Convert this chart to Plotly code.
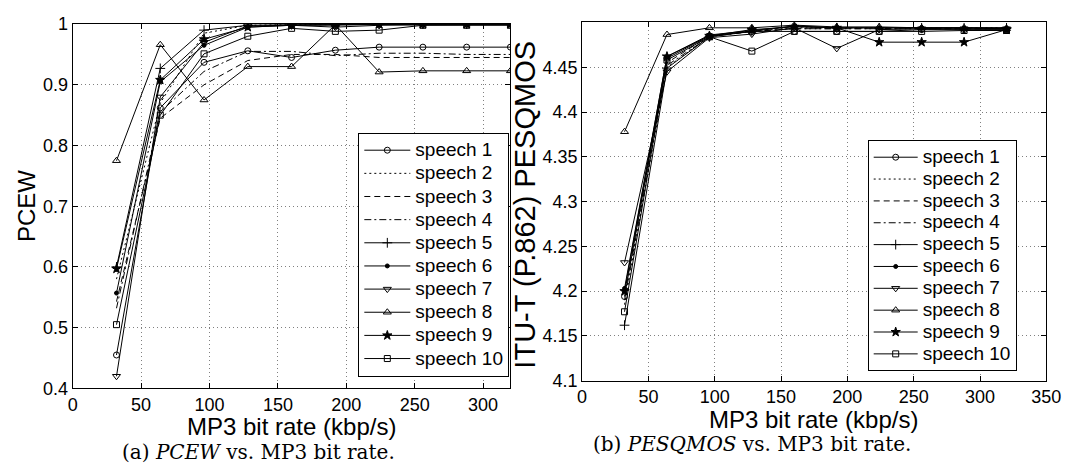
import plotly.graph_objects as go

W, H = 1078, 476

bitrate = [32, 64, 96, 128, 160, 192, 224, 256, 288, 320]
names = ["speech 1", "speech 2", "speech 3", "speech 4", "speech 5",
         "speech 6", "speech 7", "speech 8", "speech 9", "speech 10"]

pcew_s1 = [0.455, 0.862, 0.937, 0.956, 0.945, 0.957, 0.962, 0.962, 0.962, 0.962]
pcew_s2 = [0.580, 0.870, 0.985, 0.998, 0.999, 0.999, 1.000, 1.000, 1.000, 1.000]
pcew_s3 = [0.543, 0.845, 0.900, 0.940, 0.950, 0.950, 0.945, 0.945, 0.945, 0.945]
pcew_s4 = [0.532, 0.855, 0.922, 0.955, 0.955, 0.948, 0.952, 0.952, 0.950, 0.950]
pcew_s5 = [0.600, 0.927, 0.990, 0.998, 0.999, 0.999, 1.000, 1.000, 1.000, 1.000]
pcew_s6 = [0.557, 0.905, 0.965, 0.995, 0.998, 0.999, 0.999, 1.000, 1.000, 1.000]
pcew_s7 = [0.420, 0.880, 0.970, 0.997, 0.998, 0.995, 0.998, 0.999, 0.999, 0.999]
pcew_s8 = [0.775, 0.966, 0.875, 0.930, 0.930, 0.999, 0.921, 0.923, 0.923, 0.923]
pcew_s9 = [0.597, 0.908, 0.975, 0.995, 0.998, 0.999, 1.000, 1.000, 1.000, 1.000]
pcew_s10 = [0.505, 0.850, 0.951, 0.980, 0.993, 0.988, 0.990, 0.998, 0.998, 0.998]

pesq_s1 = [4.194, 4.460, 4.485, 4.490, 4.490, 4.490, 4.490, 4.492, 4.492, 4.492]
pesq_s2 = [4.185, 4.450, 4.484, 4.491, 4.494, 4.494, 4.494, 4.494, 4.494, 4.494]
pesq_s3 = [4.198, 4.455, 4.485, 4.490, 4.493, 4.493, 4.493, 4.493, 4.493, 4.493]
pesq_s4 = [4.190, 4.452, 4.484, 4.490, 4.493, 4.493, 4.493, 4.493, 4.493, 4.493]
pesq_s5 = [4.162, 4.449, 4.484, 4.490, 4.496, 4.494, 4.494, 4.494, 4.494, 4.494]
pesq_s6 = [4.203, 4.462, 4.486, 4.491, 4.496, 4.494, 4.494, 4.494, 4.494, 4.494]
pesq_s7 = [4.232, 4.445, 4.483, 4.487, 4.494, 4.471, 4.492, 4.493, 4.493, 4.493]
pesq_s8 = [4.378, 4.4865, 4.494, 4.494, 4.497, 4.495, 4.495, 4.494, 4.494, 4.493]
pesq_s9 = [4.200, 4.462, 4.485, 4.492, 4.495, 4.494, 4.478, 4.478, 4.478, 4.492]
pesq_s10 = [4.177, 4.458, 4.484, 4.468, 4.490, 4.490, 4.490, 4.490, 4.491, 4.491]

pcew = [pcew_s1, pcew_s2, pcew_s3, pcew_s4, pcew_s5, pcew_s6, pcew_s7, pcew_s8, pcew_s9, pcew_s10]
pesq = [pesq_s1, pesq_s2, pesq_s3, pesq_s4, pesq_s5, pesq_s6, pesq_s7, pesq_s8, pesq_s9, pesq_s10]

left_yticks = [0.4, 0.5, 0.6, 0.7, 0.8, 0.9, 1.0]
left_yticklabels = ["0.4", "0.5", "0.6", "0.7", "0.8", "0.9", "1"]
left_xticks = [0, 50, 100, 150, 200, 250, 300]
right_yticks = [4.1, 4.15, 4.2, 4.25, 4.3, 4.35, 4.4, 4.45]
right_xticks = [0, 50, 100, 150, 200, 250, 300, 350]

# style per series: (dash, symbol, size)
styles = [
    ("solid", "circle-open", 6),
    ("2px,3px", None, 0),
    ("6px,4px", None, 0),
    ("7px,3px,2px,3px", None, 0),
    ("solid", "cross-thin-open", 7),
    ("solid", "circle", 4),
    ("solid", "triangle-down-open", 7),
    ("solid", "triangle-up-open", 7),
    ("solid", "star", 7),
    ("solid", "square-open", 6),
]

fig = go.Figure()

def add_series(x, ys, xa, ya, leg, txt_px):
    for name, y, (dash, sym, sz) in zip(names, ys, styles):
        mode = "lines+markers" if sym else "lines"
        kw = {}
        if sym:
            kw["marker"] = dict(symbol=sym, size=sz, color="black",
                                line=dict(color="black", width=1))
        fig.add_trace(go.Scatter(
            x=x, y=y, mode=mode,
            name='<span style="font-size:%dpx">%s</span>' % (txt_px, name),
            xaxis=xa, yaxis=ya, legend=leg,
            line=dict(color="black", width=1, dash=dash), **kw))

add_series(bitrate, pcew, "x", "y", "legend", 19)
add_series(bitrate, pesq, "x2", "y2", "legend2", 19)

axis_common = dict(
    showline=True, linecolor="black", linewidth=1, mirror="allticks",
    ticks="inside", ticklen=5, tickcolor="black",
    showgrid=True, gridcolor="#808080", griddash="1px,3px", gridwidth=1,
    zeroline=False,
    tickfont=dict(family="Liberation Sans, Arial", size=18, color="black"),
)

def px_x(p):
    return p / W

def px_y(p):
    return 1 - p / H

fig.update_layout(
    width=W, height=H,
    margin=dict(l=0, r=0, t=0, b=0),
    paper_bgcolor="white", plot_bgcolor="white",
    xaxis=dict(domain=[px_x(69), px_x(515)], range=[0, 320], anchor="y",
               tickvals=left_xticks, **axis_common),
    yaxis=dict(domain=[px_y(395), px_y(14.7)], range=[0.4, 1.0], anchor="x",
               tickvals=left_yticks, ticktext=left_yticklabels, **axis_common),
    xaxis2=dict(domain=[px_x(588), px_x(1061)], range=[0, 350], anchor="y2",
                tickvals=right_xticks, **axis_common),
    yaxis2=dict(domain=[px_y(387), px_y(13)], range=[4.1, 4.5], anchor="x2",
                tickvals=right_yticks, **axis_common),
    legend=dict(x=px_x(360), y=px_y(128), xanchor="left", yanchor="top",
                bgcolor="white", bordercolor="black", borderwidth=1,
                font=dict(family="Liberation Sans, Arial", size=15.5, color="black"),
                tracegroupgap=0, itemwidth=46),
    legend2=dict(x=px_x(879), y=px_y(136), xanchor="left", yanchor="top",
                 bgcolor="white", bordercolor="black", borderwidth=1,
                 font=dict(family="Liberation Sans, Arial", size=14.5, color="black"),
                 tracegroupgap=0, itemwidth=44),
    showlegend=True,
)

sans = dict(family="Liberation Sans, Arial", size=24, color="black")
sans_big = dict(family="Liberation Sans, Arial", size=29, color="black")
serif = dict(family="DejaVu Serif", size=20, color="black")

annotations = [
    dict(text="MP3 bit rate (kbp/s)", x=px_x(292), y=px_y(435), font=sans),
    dict(text="MP3 bit rate (kbp/s)", x=px_x(824), y=px_y(427), font=sans),
    dict(text="PCEW", x=px_x(22), y=px_y(205), font=sans, textangle=-90),
    dict(text="ITU-T (P.862) PESQMOS", x=px_x(530), y=px_y(203), font=sans_big, textangle=-90),
    dict(text="(a) <i>PCEW</i> vs. MP3 bit rate.", x=px_x(258), y=px_y(461), font=serif),
    dict(text="(b) <i>PESQMOS</i> vs. MP3 bit rate.", x=px_x(761), y=px_y(453), font=serif),
]
for a in annotations:
    a.update(xref="paper", yref="paper", showarrow=False, xanchor="center", yanchor="middle")
fig.update_layout(annotations=annotations)

fig.write_html("out.html")
